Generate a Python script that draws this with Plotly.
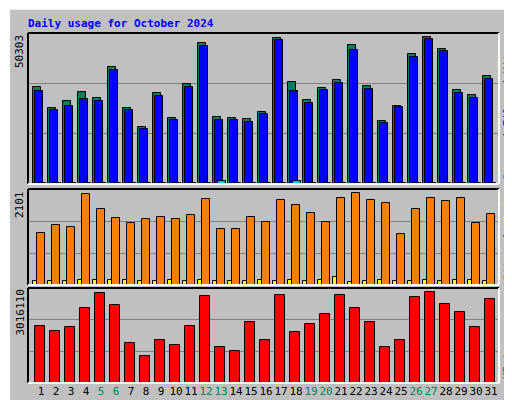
import plotly.graph_objects as go

days = list(range(1, 32))
hits = [32210,25220,27550,30550,28550,38870,25220,18890,30210,21880,33210,46870,22220,21880,21550,23880,
        48530,33880,27880,31880,34540,46200,32540,20890,25880,43200,48870,44870,31210,29550,35880]
files = [30980,24550,25880,28310,27650,37970,24550,18220,29210,21220,32210,45870,21220,21220,20550,23220,
         47870,30880,26880,31210,33540,44540,31540,20220,25550,42200,48200,44200,30210,28550,34880]
pages = [250,250,250,250,250,250,250,250,250,250,250,250,900,250,250,250,
         250,900,250,250,250,250,250,250,250,250,250,250,250,250,250]
visits = [1137,1311,1268,1985,1659,1464,1355,1442,1485,1442,1529,1876,1224,1224,1485,1377,
          1855,1746,1572,1377,1898,2007,1855,1790,1116,1659,1898,1833,1898,1355,1550]
sites = [95,95,95,110,110,110,110,95,95,110,95,110,95,95,95,110,
         95,110,95,110,165,72,95,110,95,95,110,95,110,110,80]
kbytes = [1807600,1650000,1776000,2375000,2848000,2470000,1272000,862000,1366000,1209000,1807600,2753000,
          1145000,1019000,1934000,1366000,2785000,1618000,1871000,2186000,2785000,2375000,1934000,1145000,
          1366000,2722000,2880000,2501000,2249000,1776000,2659000]
weekends = [5, 6, 12, 13, 19, 20, 26, 27]
max_hits, max_visits, max_kb = 50303, 2101, 3016110
title = "Daily usage for October 2024"

BG = "#C0C0C0"
fig = go.Figure()
line = dict(color="black", width=1)

def bar(y, color, off, w, ax):
    fig.add_trace(go.Bar(x=days, y=y, marker=dict(color=color, line=line), offset=off, width=w,
                         xaxis="x" + ax, yaxis="y" + ax, showlegend=False, hoverinfo="skip"))

bar(hits, "#00805C", -0.51, 0.49, "")
bar(files, "#0000FF", -0.38, 0.49, "")
bar(pages, "#00C0FF", -0.18, 0.49, "")
bar(sites, "#FFFF00", -0.51, 0.27, "2")
bar(visits, "#FF8000", -0.25, 0.49, "2")
bar(kbytes, "#FF0000", -0.42, 0.67, "3")

XR = [0.13, 31.53]
xd = [20/512, 491/512]
mono = "DejaVu Sans Mono"
doms = {"": [1-176/400, 1-25/400], "2": [1-277/400, 1-181/400], "3": [1-375/400, 1-280/400]}
maxes = {"": max_hits, "2": max_visits, "3": max_kb}
lay = {}
for ax in ["", "2", "3"]:
    lay["xaxis" + ax] = dict(domain=xd, range=XR, anchor="y" + ax, showgrid=False, zeroline=False,
                              showticklabels=(ax == "3"), tickvals=days, ticks="", tickangle=0,
                              ticktext=[f'<span style="color:#00805C">{d}</span>' if d in weekends else str(d) for d in days],
                              tickfont=dict(family=mono, size=11, color="black"), fixedrange=True)
    lay["yaxis" + ax] = dict(domain=doms[ax], range=[0, maxes[ax]], anchor="x" + ax, dtick=maxes[ax]/3,
                              showgrid=True, gridcolor="#808080", gridwidth=1, zeroline=False,
                              showticklabels=False, ticks="")
fig.update_layout(**lay)

shapes = []
for ax, (y0, y1) in doms.items():
    shapes.append(dict(type="line", xref="paper", yref="paper", x0=xd[0], x1=xd[0], y0=y0, y1=y1, line=dict(color="black", width=2)))
    shapes.append(dict(type="line", xref="paper", yref="paper", x0=xd[0], x1=xd[1], y0=y1, y1=y1, line=dict(color="black", width=2)))
    shapes.append(dict(type="line", xref="paper", yref="paper", x0=xd[1], x1=xd[1], y0=y0, y1=y1, line=dict(color="white", width=2)))
    shapes.append(dict(type="line", xref="paper", yref="paper", x0=xd[0], x1=xd[1], y0=y0, y1=y0, line=dict(color="white", width=2)))
shapes += [
    dict(type="rect", xref="paper", yref="paper", x0=1-6/512, x1=1, y0=0, y1=1, fillcolor="#808080", line=dict(width=0), layer="below"),
    dict(type="rect", xref="paper", yref="paper", x0=0, x1=1, y0=0, y1=6/400, fillcolor="#808080", line=dict(width=0), layer="below"),
    dict(type="line", xref="paper", yref="paper", x0=0.002, x1=0.002, y0=0, y1=1, line=dict(color="white", width=2)),
    dict(type="line", xref="paper", yref="paper", x0=0, x1=1, y0=0.998, y1=0.998, line=dict(color="white", width=2)),
]

ann = [dict(text=f"<b>{title}</b>", xref="paper", yref="paper", x=18/512, y=1-7/400, xanchor="left", yanchor="top",
            showarrow=False, font=dict(family=mono, size=11, color="#0000FF"))]
for ax, mx in maxes.items():
    ann.append(dict(text=str(mx), xref="paper", yref="paper", x=3/512, y=doms[ax][1], xanchor="left", yanchor="top",
                    textangle=-90, showarrow=False, font=dict(family=mono, size=11, color="black")))
right = [
    ('<span style="color:#00A0D0">Pages</span> / <span style="color:#0000FF">Files</span> / <span style="color:#00805C">Hits</span>', doms[""]),
    ('<span style="color:#FF8000">Sites</span> / <span style="color:#FFFF00">Visits</span>', doms["2"]),
    ('<span style="color:#FF0000">KBytes</span>', doms["3"]),
]
for t, d in right:
    ann.append(dict(text=t, xref="paper", yref="paper", x=499/512, y=d[0] + 0.005, xanchor="center", yanchor="bottom",
                    textangle=-90, showarrow=False, font=dict(family=mono, size=11, color="black")))

fig.update_layout(width=512, height=400, margin=dict(l=0, r=0, t=0, b=0), paper_bgcolor=BG, plot_bgcolor=BG,
                  barmode="overlay", shapes=shapes, annotations=ann, bargap=0)
fig.write_html("out.html")
